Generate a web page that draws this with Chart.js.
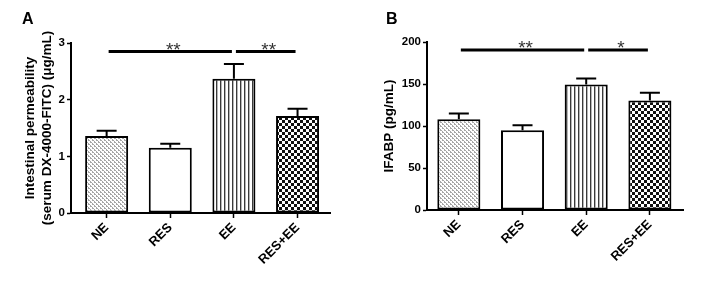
<!DOCTYPE html>
<html><head><meta charset="utf-8">
<script src="https://cdn.jsdelivr.net/npm/chart.js@4.4.1/dist/chart.umd.min.js"></script>
<style>
html,body{margin:0;padding:0;background:#fff;}
#wrap{position:relative;width:701px;height:287px;overflow:hidden;background:#fff}
canvas{position:absolute;top:0}
</style></head><body>
<div id="wrap"><canvas id="cA" width="350" height="287" style="left:0"></canvas><canvas id="cB" width="351" height="287" style="left:350px"></canvas></div>
<script>
// ---- data ----
const categories = ['NE', 'RES', 'EE', 'RES+EE'];
const permeabilityMean = [1.36, 1.15, 2.37, 1.71];
const permeabilitySEM = [0.09, 0.07, 0.26, 0.13];
const permeabilityTicks = [0, 1, 2, 3];
const ifabpMean = [108, 95, 149.5, 130.5];
const ifabpSEM = [7, 6, 7, 9];
const ifabpTicks = [0, 50, 100, 150, 200];
const permeabilitySig = [{from: 0, to: 2, level: 2.85, label: '**'}, {from: 2, to: 3, level: 2.85, label: '**'}];
const ifabpSig = [{from: 0, to: 2, level: 190.5, label: '**'}, {from: 2, to: 3, level: 190.5, label: '*'}];

const FONT = "'Liberation Sans', Arial, sans-serif";

function makePattern(w, h, draw) {
  const c = document.createElement('canvas');
  c.width = w; c.height = h;
  const g = c.getContext('2d');
  g.fillStyle = '#fff'; g.fillRect(0, 0, w, h);
  draw(g);
  return g.createPattern(c, 'repeat');
}
const pDots = makePattern(4, 4, g => {
  g.fillStyle = '#a6a6a6';
  [[0,0],[1,0],[2,1],[2,2],[3,2],[0,3]].forEach(([x,y]) => g.fillRect(x, y, 1, 1));
});
const pStripes = makePattern(4, 1, g => {
  g.fillStyle = '#3a3a3a'; g.fillRect(0, 0, 1, 1);
  g.fillStyle = '#b5b5b5'; g.fillRect(1, 0, 1, 1);
});
const pChecker = makePattern(6, 6, g => {
  g.fillStyle = '#111';
  g.fillRect(0, 0, 3, 3); g.fillRect(3, 3, 3, 3);
});
const fills = [pDots, '#ffffff', pStripes, pChecker];

const annot = {
  id: 'annot',
  afterDatasetsDraw(chart, args, o) {
    const {ctx, scales: {x, y}} = chart;
    ctx.save();
    ctx.strokeStyle = '#000';
    ctx.lineWidth = 2;
    o.mean.forEach((m, i) => {
      const px = x.getPixelForValue(i);
      const p0 = y.getPixelForValue(m);
      const p1 = y.getPixelForValue(m + o.sem[i]);
      ctx.beginPath();
      ctx.moveTo(px, p0); ctx.lineTo(px, p1);
      ctx.moveTo(px - 10, p1); ctx.lineTo(px + 10, p1);
      ctx.stroke();
    });
    ctx.lineWidth = 3;
    ctx.font = '19px ' + FONT;
    ctx.textAlign = 'center';
    ctx.textBaseline = 'alphabetic';
    ctx.fillStyle = '#333';
    o.sig.forEach(s => {
      const a = x.getPixelForValue(s.from) + 2, b = x.getPixelForValue(s.to) - 2;
      const py = y.getPixelForValue(s.level);
      ctx.beginPath(); ctx.moveTo(a, py); ctx.lineTo(b, py); ctx.stroke();
      ctx.fillText(s.label, (a + b) / 2 + 3, py + 4.5);
    });
    ctx.restore();
  },
  afterDraw(chart, args, o) {
    const ctx = chart.ctx;
    ctx.save();
    ctx.font = 'bold 16px ' + FONT;
    ctx.fillStyle = '#000';
    ctx.textAlign = 'left';
    ctx.textBaseline = 'alphabetic';
    ctx.fillText(o.letter, o.letterX, 24);
    ctx.restore();
  }
};

function build(id, mean, sem, ticks, sig, title, cfg) {
  return new Chart(document.getElementById(id), {
    type: 'bar',
    data: {
      datasets: [{
        data: mean.map((v, i) => ({x: i, y: v})),
        backgroundColor: fills,
        borderColor: '#000',
        borderWidth: 2,
        borderSkipped: false,
        barPercentage: 0.676,
        categoryPercentage: 1
      }]
    },
    options: {
      responsive: false,
      animation: false,
      devicePixelRatio: 1,
      layout: {padding: {top: cfg.top, right: cfg.right, left: 0, bottom: 0}},
      plugins: {
        legend: {display: false},
        tooltip: {enabled: false},
        annot: {mean, sem, sig, letter: cfg.letter, letterX: cfg.letterX}
      },
      scales: {
        x: {
          type: 'linear', min: cfg.xmin, max: cfg.xmax, offset: false,
          ticks: {
            stepSize: 1, includeBounds: false, autoSkip: false,
            maxRotation: 45, minRotation: 45, padding: 2,
            color: '#000', font: {family: FONT, size: 13, weight: 'bold'},
            callback: v => categories[v] ?? ''
          },
          grid: {offset: false, drawOnChartArea: false, tickLength: 5, tickWidth: 1.5, tickColor: '#000', color: '#000'},
          border: {color: '#000', width: 2},
          afterFit(s) { s.height = cfg.xh; }
        },
        y: {
          min: ticks[0], max: ticks[ticks.length - 1],
          ticks: {stepSize: ticks[1] - ticks[0], padding: 2, color: '#000', font: {family: FONT, size: 11.5, weight: 'bold'}},
          grid: {drawOnChartArea: false, tickLength: 4, tickWidth: 1.5, tickColor: '#000', color: '#000'},
          border: {color: '#000', width: 2},
          title: {display: true, text: title, color: '#000',
            font: {family: FONT, size: 13.5, weight: 'bold', lineHeight: 1.26},
            padding: {top: cfg.tpad, bottom: 0}},
          afterFit(s) { s.width = cfg.yw; }
        }
      }
    },
    plugins: [annot]
  });
}

build('cA', permeabilityMean, permeabilitySEM, permeabilityTicks, permeabilitySig,
  ['Intestinal permeability', '(serum DX-4000-FITC) (\u03bcg/mL)'],
  {top: 43, right: 20, xmin: -0.56, xmax: 3.51, xh: 74, yw: 71, tpad: 21.5, letter: 'A', letterX: 22});
build('cB', ifabpMean, ifabpSEM, ifabpTicks, ifabpSig, 'IFABP (pg/mL)',
  {top: 42, right: 18, xmin: -0.5, xmax: 3.52, xh: 77, yw: 77, tpad: 31, letter: 'B', letterX: 36});
</script>
</body></html>
